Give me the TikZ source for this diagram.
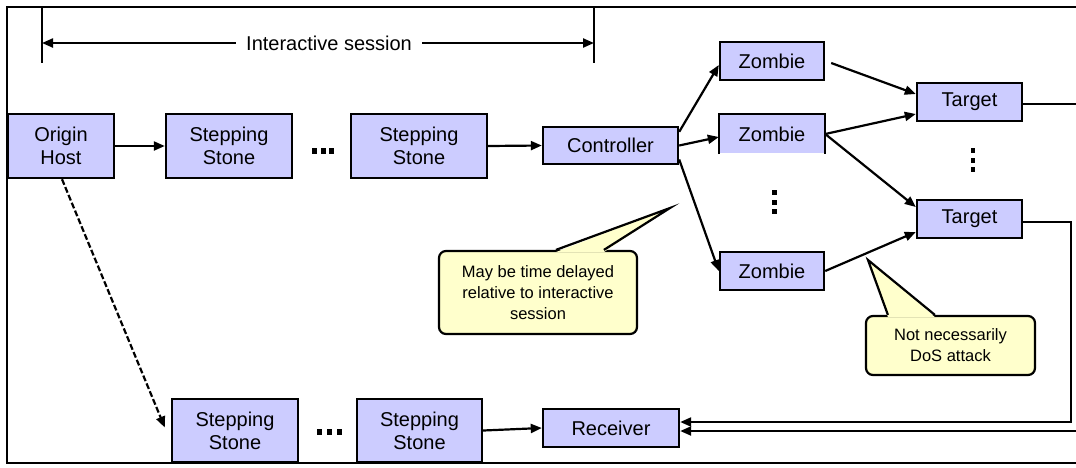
\documentclass[tikz,border=0pt]{standalone}
\usepackage{fontspec}
\setmainfont{Liberation Sans}
\usetikzlibrary{arrows.meta,calc}
\definecolor{boxfill}{RGB}{204,204,255}
\definecolor{notefill}{RGB}{255,255,204}
\tikzset{
  hostbox/.style={draw=black, fill=boxfill, line width=2.4pt, inner sep=0pt,
    align=center, font=\fontsize{20}{23}\selectfont},
  notebox/.style={draw=black, fill=notefill, line width=2.2pt, inner sep=0pt,
    rounded corners=7pt, align=center, font=\fontsize{16.5}{21}\selectfont},
  conn/.style={line width=2.2pt, -{Triangle[length=11pt,width=9pt]}},
  plain/.style={line width=2.2pt},
  dashconn/.style={line width=2.2pt, dash pattern=on 6pt off 2.5pt,
    -{Triangle[length=11pt,width=9pt]}},
  dotmark/.style={fill=black},
}
\begin{document}
\begin{tikzpicture}[x=1pt,y=-1pt]
\useasboundingbox (0,0) rectangle (1076,467);
\fill[white] (0,0) rectangle (1076,467);

% outer frame
\draw[plain] (1095,7) -- (7,7) -- (7,463) -- (1095,463);

% interactive session bracket
\coordinate (tlt) at (42,7);
\coordinate (tlb) at (42,63);
\coordinate (trt) at (594,7);
\coordinate (trb) at (594,63);
\draw[plain] (tlt) -- (tlb);
\draw[plain] (trt) -- (trb);
\coordinate (isL) at (42,43);
\coordinate (isR) at (594,43);
\draw[line width=2.2pt, {Triangle[length=11pt,width=9pt]}-{Triangle[length=11pt,width=9pt]}]
  (isL) -- (isR) node[pos=0.52, fill=white, inner xsep=10pt, inner ysep=2pt,
  font=\fontsize{20}{23}\selectfont] (islabel) {Interactive session};

% top row
\node[hostbox, minimum width=106pt, minimum height=64pt] (origin) at (61,146) {Origin\\Host};
\node[hostbox, minimum width=126pt, minimum height=64pt] (ss1) at (229,146) {Stepping\\Stone};
\node[hostbox, minimum width=136pt, minimum height=64pt] (ss2) at (419,146) {Stepping\\Stone};
\node[hostbox, minimum width=135pt, minimum height=37pt] (ctrl) at (610.5,145.5) {Controller};

% zombies
\node[hostbox, minimum width=104pt, minimum height=38pt] (z1) at (772,61) {Zombie};
\node[hostbox, draw=none, minimum width=104pt, minimum height=38pt] (z2) at (772,134) {Zombie};
\draw[line width=2.4pt] (z2.south west) |- (z2.north east) -- (z2.south east);
\node[hostbox, minimum width=104pt, minimum height=38pt] (z3) at (772,271) {Zombie};

% targets
\node[hostbox, minimum width=105pt, minimum height=38pt] (t1) at (969.5,102) {Target};
\node[hostbox, minimum width=105pt, minimum height=38pt] (t2) at (969.5,219) {Target};

% bottom row
\node[hostbox, minimum width=126pt, minimum height=63pt] (ss3) at (235,430.5) {Stepping\\Stone};
\node[hostbox, minimum width=125pt, minimum height=63pt] (ss4) at (419.5,430.5) {Stepping\\Stone};
\node[hostbox, minimum width=136pt, minimum height=38pt] (recv) at (611,428) {Receiver};

% ellipsis dots
\fill[dotmark] (312,148) rectangle (317,154);
\fill[dotmark] (321,148) rectangle (326,154);
\fill[dotmark] (329,148) rectangle (334,154);
\fill[dotmark] (317,429) rectangle (322,435);
\fill[dotmark] (327,429) rectangle (332,435);
\fill[dotmark] (337,429) rectangle (342,435);
\fill[dotmark] (772,190) rectangle (777,195);
\fill[dotmark] (772,200) rectangle (777,205);
\fill[dotmark] (772,209) rectangle (777,214);
\fill[dotmark] (971,148) rectangle (975,153);
\fill[dotmark] (971,158) rectangle (975,163);
\fill[dotmark] (971,167) rectangle (975,172);

% connectors top row
\draw[conn] (origin.east) -- (ss1.west);
\draw[conn] (ss2.east) -- (ctrl.west);
\draw[conn] ($(ctrl.north east)+(0,6)$) -- ($(z1.west)+(0,4)$);
\draw[conn] (ctrl.east) -- ($(z2.west)+(0,3)$);
\draw[conn] ($(ctrl.east)+(0,14)$) -- (z3.west);
\draw[conn] ($(z1.east)+(6,2)$) -- ($(t1.west)+(0,-8)$);
\draw[conn] (z2.east) -- ($(t1.west)+(0,12)$);
\draw[conn] (z2.east) -- ($(t2.west)+(0,-12)$);
\draw[conn] (z3.east) -- ($(t2.west)+(0,13)$);

% dashed link to lower path
\coordinate (dashend) at ($(ss3.west)+(-6,-3)$);
\draw[dashconn] ($(origin.south)+(1,0)$) -- (dashend);
\draw[conn] (ss4.east) -- (recv.west);

% returns from targets
\coordinate (t2corner) at (1071,222);
\draw[conn] ($(t2.east)+(0,3)$) -- (t2corner) |- ($(recv.east)+(0,-6)$);
\coordinate (t1out) at (1095,104);
\coordinate (t1back) at (1095,431);
\draw[plain] ($(t1.east)+(0,2)$) -- (t1out);
\draw[conn] (t1back) -- ($(recv.east)+(0,3)$);

% callout 1
\node[notebox, minimum width=198pt, minimum height=83pt] (c1) at (538,292.5)
  {May be time delayed\\relative to interactive\\session};
\coordinate (tip1) at (670,208);
\fill[notefill] ($(c1.north west)+(118,2.2)$) -- (tip1) -- ($(c1.north west)+(166,2.2)$) -- cycle;
\draw[line width=2.2pt, line join=miter] ($(c1.north west)+(118,0)$) -- (tip1) -- ($(c1.north west)+(166,0)$);

% callout 2
\node[notebox, minimum width=169pt, minimum height=59pt] (c2) at (950.5,345.5)
  {Not necessarily\\DoS attack};
\coordinate (tip2) at (868,260);
\fill[notefill] ($(c2.north west)+(23,2.2)$) -- (tip2) -- ($(c2.north west)+(70,2.2)$) -- cycle;
\draw[line width=2.2pt] ($(c2.north west)+(23,0)$) -- (tip2) -- ($(c2.north west)+(70,0)$);
\end{tikzpicture}
\end{document}
